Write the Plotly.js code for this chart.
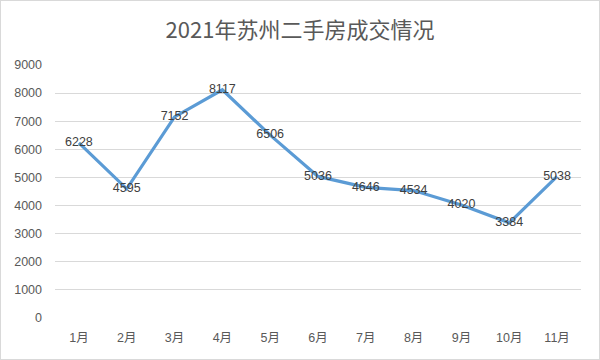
<!DOCTYPE html>
<html>
<head>
<meta charset="utf-8">
<script src="https://cdn.plot.ly/plotly-3.0.1.min.js"></script>
<style>
html,body{margin:0;padding:0;background:#fff;}
#wrap{position:relative;width:600px;height:360px;}
#chart{width:600px;height:360px;}
#frame{position:absolute;left:0;top:0;width:598px;height:358px;border:1px solid #d9d9d9;pointer-events:none;}
</style>
</head>
<body>
<div id="wrap"><div id="chart"></div><div id="frame"></div></div>
<script>
const months = ['1月','2月','3月','4月','5月','6月','7月','8月','9月','10月','11月'];
const deals = [6228, 4595, 7152, 8117, 6506, 5036, 4646, 4534, 4020, 3384, 5038];
const yTicks = [0,1000,2000,3000,4000,5000,6000,7000,8000,9000];

const fontFam = '"Liberation Sans", "Noto Sans CJK SC", sans-serif';

Plotly.newPlot('chart', [{
  type: 'scatter',
  mode: 'lines+text',
  x: months,
  y: deals,
  text: deals.map(String),
  textposition: 'middle center',
  textfont: {family: fontFam, size: 12.5, color: '#404040'},
  line: {color: '#5b9bd5', width: 3.2},
  cliponaxis: false,
  hoverinfo: 'none'
}], {
  width: 600, height: 360,
  margin: {l: 55, r: 19, t: 65, b: 42},
  paper_bgcolor: '#ffffff',
  plot_bgcolor: '#ffffff',
  showlegend: false,
  title: {text: '2021年苏州二手房成交情况', x: 0.5, xanchor: 'center', y: 0.915, yanchor: 'middle',
          font: {family: '"Noto Sans CJK SC", sans-serif', size: 22, color: '#595959'}},
  xaxis: {type: 'category', range: [-0.5, 10.5], showgrid: false, zeroline: false, showline: false,
          ticks: '', ticklabelstandoff: 10,
          tickfont: {family: fontFam, size: 12.5, color: '#595959'}},
  yaxis: {range: [0, 9000], tickvals: yTicks, ticktext: yTicks.map(String), showgrid: true,
          gridcolor: '#d9d9d9', gridwidth: 1, zeroline: false, showline: false, ticks: '',
          ticklabelstandoff: 12,
          tickfont: {family: fontFam, size: 12.5, color: '#595959'}}
}, {displayModeBar: false, staticPlot: true});
</script>
</body>
</html>
